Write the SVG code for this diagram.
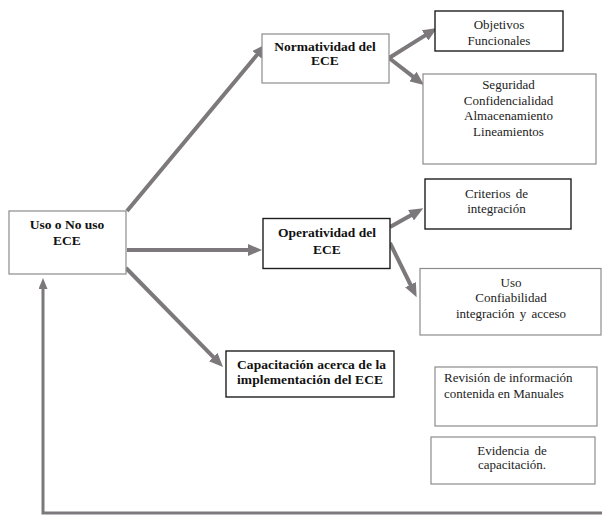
<svg xmlns="http://www.w3.org/2000/svg" width="602" height="515" viewBox="0 0 602 515">
<style>
  .bg { fill: #ffffff; }
  .box { fill: #ffffff; }
  .dark { stroke: #1e1e1e; stroke-width: 1.4; }
  .light { stroke: #8c8c8c; stroke-width: 1.2; }
  .t { font-family: "Liberation Serif", "Times New Roman", serif; font-size: 13px; fill: #222222; }
  .b { font-family: "Liberation Serif", "Times New Roman", serif; font-size: 13.5px; font-weight: bold; fill: #111111; }
  .c { text-anchor: middle; }
  .conn { fill: none; stroke: #7d787b; stroke-width: 4; }
  .fb { fill: none; stroke: #7d787b; stroke-width: 3; }
</style>
<defs>
  <marker id="ah" markerUnits="userSpaceOnUse" viewBox="0 0 14 12" markerWidth="14" markerHeight="12" refX="1" refY="6" orient="auto">
    <path d="M0,0 L14,6 L0,12 z" fill="#7d787b"/>
  </marker>
  <marker id="ahs" markerUnits="userSpaceOnUse" viewBox="0 0 11 9" markerWidth="11" markerHeight="9" refX="1" refY="4.5" orient="auto">
    <path d="M0,0 L11,4.5 L0,9 z" fill="#7d787b"/>
  </marker>
</defs>
<rect class="bg" x="0" y="0" width="602" height="515"/>

<g id="connectors">
  <line class="conn" x1="127" y1="211" x2="257.7" y2="54" marker-end="url(#ah)"/>
  <line class="conn" x1="127" y1="250" x2="249" y2="250" marker-end="url(#ah)"/>
  <line class="conn" x1="126" y1="268" x2="213.9" y2="357.7" marker-end="url(#ah)"/>
  <line class="conn" x1="389" y1="58" x2="426" y2="34.9" marker-end="url(#ah)"/>
  <line class="conn" x1="389" y1="58" x2="413.7" y2="77.1" marker-end="url(#ah)"/>
  <line class="conn" x1="390" y1="227" x2="411.9" y2="214.7" marker-end="url(#ah)"/>
  <line class="conn" x1="390" y1="243" x2="410.9" y2="285.5" marker-end="url(#ah)"/>
  <polyline class="fb" points="602,513 43,513 43,288" marker-end="url(#ahs)"/>
</g>

<g id="node-uso">
  <rect class="box light" x="9" y="211" width="117" height="63"/>
  <text class="b c" x="67" y="229">Uso o No uso</text>
  <text class="b c" x="67" y="245">ECE</text>
</g>

<g id="node-normatividad">
  <rect class="box light" x="262" y="34" width="127" height="49"/>
  <text class="b c" x="325" y="50.5">Normatividad del</text>
  <text class="b c" x="325" y="65">ECE</text>
</g>

<g id="node-objetivos">
  <rect class="box dark" x="435" y="11" width="128" height="40"/>
  <text class="t c" x="499" y="28.5">Objetivos</text>
  <text class="t c" x="499" y="45">Funcionales</text>
</g>

<g id="node-seguridad">
  <rect class="box light" x="423" y="74" width="173" height="90"/>
  <text class="t c" x="508.5" y="89">Seguridad</text>
  <text class="t c" x="508.5" y="104.5">Confidencialidad</text>
  <text class="t c" x="508.5" y="120">Almacenamiento</text>
  <text class="t c" x="508.5" y="135.5">Lineamientos</text>
</g>

<g id="node-operatividad">
  <rect class="box dark" x="263" y="218.5" width="127" height="50"/>
  <text class="b c" x="327" y="236.5">Operatividad del</text>
  <text class="b c" x="327" y="254">ECE</text>
</g>

<g id="node-criterios">
  <rect class="box dark" x="425" y="179" width="146" height="50"/>
  <text class="t c" x="496.5" y="197.5" word-spacing="2">Criterios de</text>
  <text class="t c" x="496.5" y="212.5">integración</text>
</g>

<g id="node-uso-conf">
  <rect class="box light" x="420" y="268.5" width="181" height="66.5"/>
  <text class="t c" x="511" y="287">Uso</text>
  <text class="t c" x="511" y="302">Confiabilidad</text>
  <text class="t c" x="511" y="318" word-spacing="2">integración y acceso</text>
</g>

<g id="node-capacitacion">
  <rect class="box dark" x="226" y="351" width="168" height="46"/>
  <text class="b" x="237" y="369" textLength="149" lengthAdjust="spacing">Capacitación acerca de la</text>
  <text class="b" x="237" y="384" textLength="146" lengthAdjust="spacing">implementación del ECE</text>
</g>

<g id="node-revision">
  <rect class="box light" x="435" y="367" width="162" height="59"/>
  <text class="t" x="444" y="382">Revisión de información</text>
  <text class="t" x="444" y="397.5">contenida en Manuales</text>
</g>

<g id="node-evidencia">
  <rect class="box light" x="431" y="437" width="164" height="47"/>
  <text class="t c" x="512" y="455" word-spacing="2">Evidencia de</text>
  <text class="t c" x="512" y="469">capacitación.</text>
</g>
</svg>
